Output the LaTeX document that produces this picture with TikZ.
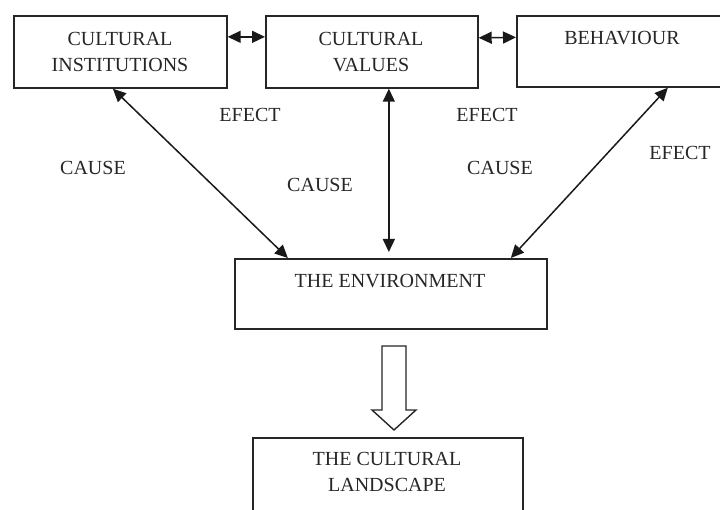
\documentclass[tikz,border=0pt]{standalone}
\usepackage{fontspec}
\setmainfont{Liberation Serif}
\usetikzlibrary{arrows.meta}
\begin{document}
\begin{tikzpicture}[x=1pt,y=-1pt,
  box/.style={draw=black!85, line width=1.7pt, inner sep=0pt, anchor=north west},
  txt/.style={font=\fontsize{20}{26}\selectfont, align=center, inner sep=0pt, text=black!85},
  conn/.style={draw=black!90, line width=1.5pt, {Triangle[length=13pt,width=12pt]}-{Triangle[length=13pt,width=12pt]}},
]
\useasboundingbox (0,0) rectangle (720,510);
\clip (0,0) rectangle (720,510);
% boxes
\node[box, minimum width=213pt, minimum height=72pt] (ci) at (13,15) {};
\node[box, minimum width=212pt, minimum height=72pt] (cv) at (265,15) {};
\node[box, minimum width=206pt, minimum height=71pt] (cb) at (516,15) {};
\node[box, minimum width=312pt, minimum height=70pt] (env) at (234,258) {};
\node[box, minimum width=270pt, minimum height=83pt] (land) at (252,437) {};
% box texts
\node[txt] (tci) at (120,52) {CULTURAL\\INSTITUTIONS};
\node[txt] (tcv) at (371,52) {CULTURAL\\VALUES};
\node[txt] (tcb) at (622,38) {BEHAVIOUR};
\node[txt] (tenv) at (390,281) {THE ENVIRONMENT};
\node[txt] (tland) at (387,472) {THE CULTURAL\\LANDSCAPE};
% connectors
\draw[conn] ([yshift=15pt]ci.east) -- ([yshift=15pt]cv.west);
\draw[conn] ([yshift=14pt]cv.east) -- ([yshift=14pt]cb.west);
\draw[conn] ([xshift=-7.5pt]ci.south) -- ([xshift=-103pt]env.north);
\draw[conn, shorten >=6pt] ([xshift=17pt]cv.south) -- ([xshift=-2pt]env.north);
\draw[conn] ([xshift=48pt]cb.south) -- ([xshift=120pt]env.north);
% labels
\node[txt] (e1) at (250,115) {EFECT};
\node[txt] (e2) at (487,115) {EFECT};
\node[txt] (e3) at (680,153) {EFECT};
\node[txt] (c1) at (93,168) {CAUSE};
\node[txt] (c2) at (320,185) {CAUSE};
\node[txt] (c3) at (500,168) {CAUSE};
% hollow arrow
\draw[draw=black!85, line width=1.4pt, fill=white, line join=miter]
  (382,346) -- (406,346) -- (406,410) -- (416,410) -- (394,430) -- (372,410) -- (382,410) -- cycle;
\end{tikzpicture}
\end{document}
